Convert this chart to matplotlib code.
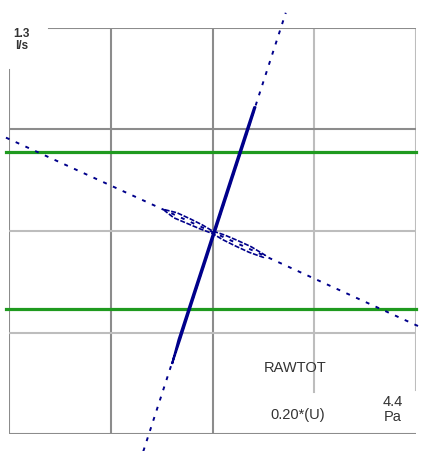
import matplotlib
matplotlib.use("Agg")
import matplotlib.pyplot as plt

# Limits (flow, l/s, vs pressure, Pa)
green_levels = [0.775, -0.77]

# Long dotted lines (end points)
steep_line_x = [-0.68, 0.72]
steep_line_y = [-2.17, 2.15]
shallow_line_x = [-2.03, 2.05]
shallow_line_y = [0.92, -0.95]

# Dense loop traces
steep_loop_x = [-0.395, -0.318, -0.238, -0.157, -0.069, 0.018, 0.099, 0.180, 0.258, 0.336, 0.422,
                0.410, 0.321, 0.243, 0.165, 0.084, 0.003, -0.084, -0.172, -0.253, -0.334, -0.395]
steep_loop_y = [-1.30, -1.07, -0.82, -0.57, -0.30, -0.03, 0.22, 0.47, 0.71, 0.95, 1.22,
                1.22, 0.95, 0.71, 0.47, 0.22, -0.03, -0.30, -0.57, -0.82, -1.07, -1.30]
shallow_loop_x = [-0.47, -0.35, -0.22, -0.10, 0.00, 0.12, 0.25, 0.38, 0.52,
                  0.50, 0.36, 0.22, 0.10, 0.00, -0.12, -0.25, -0.38, -0.47]
shallow_loop_y = [0.21, 0.18, 0.12, 0.06, 0.0, -0.04, -0.095, -0.155, -0.24,
                  -0.26, -0.21, -0.145, -0.085, -0.025, 0.02, 0.075, 0.13, 0.20]

plt.rcParams['font.family'] = ['Liberation Sans', 'DejaVu Sans']

fig = plt.figure(figsize=(4.22, 4.51), dpi=100)
ax = fig.add_axes([9 / 422, 17 / 451, 407 / 422, 406 / 451])
ax.set_xlim(-2, 2)
ax.set_ylim(-2, 2)
ax.axis("off")

dark = "#8c8c8c"
light = "#bdbdbd"
# grid / frame
ax.axvline(-2, ymin=0, ymax=0.897, color=dark, lw=1.5)
ax.axvline(-1, color=dark, lw=1.5)
ax.axvline(0, color=dark, lw=1.5)
ax.axvline(1, ymin=0.103, ymax=1, color=light, lw=1.5)
ax.axvline(2, ymin=0.108, ymax=1, color=light, lw=1.5)
ax.axhline(2, xmin=0.098, xmax=1, color=dark, lw=1.5)
ax.axhline(1, color=dark, lw=1.5)
ax.axhline(0, color=light, lw=1.5)
ax.axhline(-1, color=light, lw=1.5)
ax.axhline(-2, xmin=0, xmax=0.998, color=dark, lw=1.5)

for g in green_levels:
    ax.plot([-2.03, 2.0], [g, g], color="#1f9a1f", lw=2.3, clip_on=False, zorder=3)

navy = "#00008b"
ax.plot(steep_line_x, steep_line_y, color=navy, lw=1.4, ls=(0, (2, 3.5)), clip_on=False, zorder=4)
ax.plot(shallow_line_x, shallow_line_y, color=navy, lw=1.4, ls=(0, (2, 3.5)), clip_on=False, zorder=4)
ax.plot(steep_loop_x, steep_loop_y, color=navy, lw=1.5, zorder=5)
ax.plot(shallow_loop_x, shallow_loop_y, color=navy, lw=1.2, ls=(0, (3, 1)), zorder=5)

tc = "#333333"
ax.text(-1.88, 1.94, "1.3", ha="center", va="center", fontsize=8.5, color=tc, fontweight="bold")
ax.text(-1.88, 1.82, "l/s", ha="center", va="center", fontsize=8.5, color=tc, fontweight="bold")
ax.text(0.81, -1.35, "RAWTOT", ha="center", va="center", fontsize=10.5, color=tc)
ax.text(0.84, -1.81, "0.20*(U)", ha="center", va="center", fontsize=10.5, color=tc)
ax.text(1.77, -1.68, "4.4", ha="center", va="center", fontsize=10.5, color=tc)
ax.text(1.77, -1.83, "Pa", ha="center", va="center", fontsize=10.5, color=tc)

fig.savefig("out.png", dpi=100)
